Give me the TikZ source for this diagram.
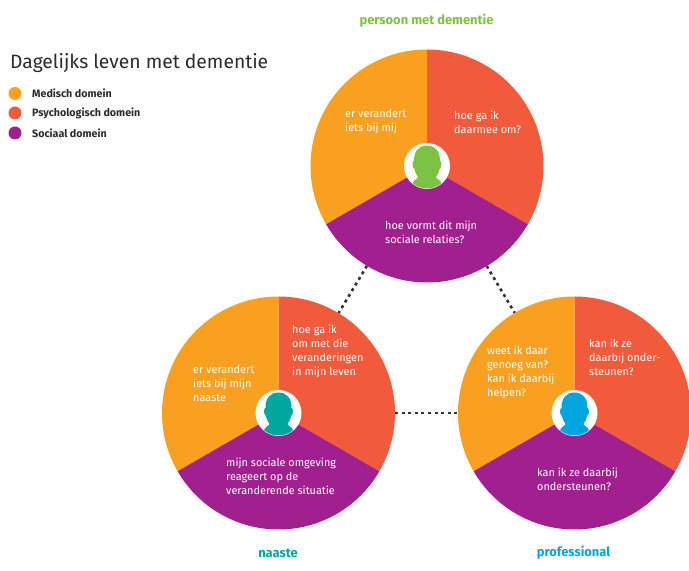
\documentclass[tikz,border=0pt]{standalone}
\usepackage{fontspec}
\setmainfont{Fira Sans}
\usepackage{xcolor}
\definecolor{medisch}{HTML}{F9A021}
\definecolor{psycho}{HTML}{F15B3B}
\definecolor{sociaal}{HTML}{A21F8F}
\definecolor{groen}{HTML}{7CC243}
\definecolor{teal}{HTML}{00A79D}
\definecolor{blauw}{HTML}{00A5E0}
\definecolor{titel}{HTML}{2B2B2B}
\tikzset{
  wheel/.style={circle,minimum size=233pt,inner sep=0pt,outer sep=0pt},
  face/.style={circle,fill=white,minimum size=46pt,inner sep=0pt,outer sep=0pt},
  question/.style={anchor=west,align=left,text=white,inner sep=0pt,font=\fontsize{10.9}{14}\selectfont},
  who/.style={inner sep=0pt,font=\fontsize{12.9}{14}\selectfont\bfseries},
  legendtext/.style={anchor=west,inner sep=0pt,text=titel,font=\fontsize{10.7}{12}\selectfont\bfseries},
  legenddot/.style={circle,minimum size=13pt,inner sep=0pt},
  link/.style={line width=2.6pt,dash pattern=on 3pt off 3.6pt,black!80}
}
\begin{document}
\begin{tikzpicture}[x=1pt,y=1pt]
    \useasboundingbox (0,0) rectangle (689,571);
    % title
    \node[anchor=west,inner sep=0pt,text=titel,font=\fontsize{19.3}{21}\selectfont] (title) at (10,508) {Dagelijks leven met dementie};
    % legend
    \node[legenddot,fill=medisch] (dotmed) at (15,477.5) {};
    \node[legendtext] (txtmed) at (32,477.5) {Medisch domein};
    \node[legenddot,fill=psycho] (dotpsy) at (15,458) {};
    \node[legendtext] (txtpsy) at (32,458) {Psychologisch domein};
    \node[legenddot,fill=sociaal] (dotsoc) at (15,438) {};
    \node[legendtext] (txtsoc) at (32,438) {Sociaal domein};
    % wheels
    \node[wheel] (persoon) at (427,405) {};
    \node[wheel] (naaste) at (278.5,158) {};
    \node[wheel] (prof) at (574.5,158) {};
    % dotted links
    \draw[link] (persoon) -- (naaste);
    \draw[link] (persoon) -- (prof);
    \draw[link] (naaste) -- (prof);
    % segments and heads
    \foreach \wh/\col in {persoon/groen,naaste/teal,prof/blauw}{
      \fill[medisch] (\wh.center) -- (\wh.210) arc (210:90:116.5pt) -- cycle;
      \fill[psycho] (\wh.center) -- (\wh.90) arc (90:-30:116.5pt) -- cycle;
      \fill[sociaal] (\wh.center) -- (\wh.-30) arc (-30:-150:116.5pt) -- cycle;
      \node[face] (\wh face) at (\wh) {};
      \begin{scope}[shift={(\wh)}]
        \clip (0,0) circle [radius=22.5pt];
        \fill[\col] (0,20.5) .. controls (9,20.5) and (13,14) .. (13,5)
          .. controls (15,5) and (15,-2) .. (12.5,-3)
          .. controls (12,-7) and (10,-9) .. (9,-11)
          .. controls (9,-13) and (16,-14) .. (17,-24)
          -- (-17,-24)
          .. controls (-16,-14) and (-9,-13) .. (-9,-11)
          .. controls (-10,-9) and (-12,-7) .. (-12.5,-3)
          .. controls (-15,-2) and (-15,5) .. (-13,5)
          .. controls (-13,14) and (-9,20.5) .. (0,20.5) -- cycle;
      \end{scope}
    }
    % who
    \node[who,text=groen] (lblpersoon) at (426.5,550) {persoon met dementie};
    \node[who,text=teal] (lblnaaste) at (278,18) {naaste};
    \node[who,text=blauw] (lblprof) at (573.5,18) {professional};
    % questions persoon
    \node[question] (q1a) at (345,449) {er verandert\\iets bij mij};
    \node[question] (q1b) at (454,449) {hoe ga ik\\daarmee om?};
    \node[question] (q1c) at (385,339) {hoe vormt dit mijn\\sociale relaties?};
    % questions naaste
    \node[question] (q2a) at (193,187.5) {er verandert\\iets bij mijn\\naaste};
    \node[question] (q2b) at (292,220) {hoe ga ik\\om met die\\veranderingen\\in mijn leven};
    \node[question] (q2c) at (226,95) {mijn sociale omgeving\\reageert op de\\veranderende situatie};
    % questions professional
    \node[question] (q3a) at (487,198.5) {weet ik daar\\genoeg van?\\kan ik daarbij\\helpen?};
    \node[question] (q3b) at (589,214) {kan ik ze\\daarbij onder-\\steunen?};
    \node[question] (q3c) at (537,92) {kan ik ze daarbij\\ondersteunen?};
\end{tikzpicture}
\end{document}
